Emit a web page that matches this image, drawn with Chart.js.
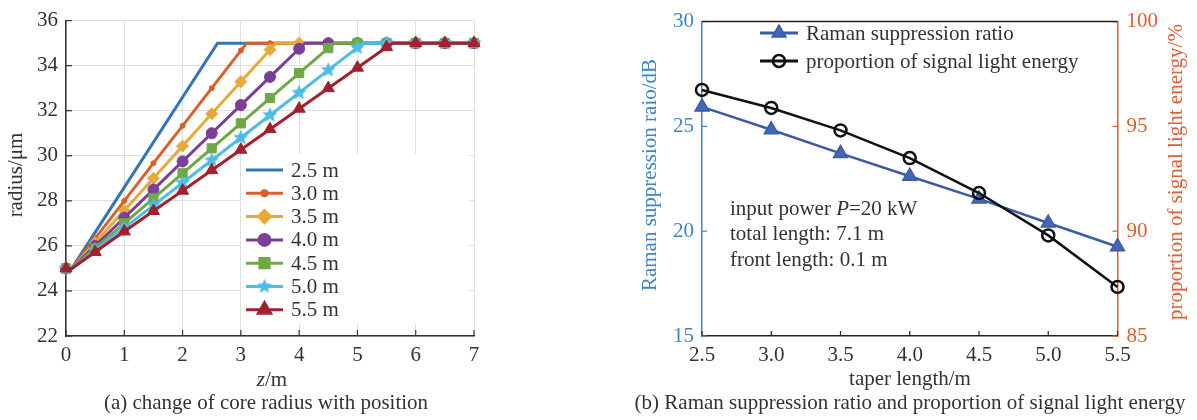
<!DOCTYPE html>
<html>
<head>
<meta charset="utf-8">
<script src="https://cdn.jsdelivr.net/npm/chart.js@4.4.0/dist/chart.umd.min.js"></script>
<style>
  html, body { margin: 0; padding: 0; background: #fff; }
  #wrap { position: relative; width: 1197px; height: 420px; overflow: hidden; }
  canvas { position: absolute; top: 0; }
</style>
</head>
<body>
<div id="wrap">
  <canvas id="radiusChart" width="600" height="420" style="left:0"></canvas>
  <canvas id="ramanChart" width="597" height="420" style="left:600px"></canvas>
</div>
<script>
// ---- (a) core radius vs position ----
const seriesLabels = ['2.5 m', '3.0 m', '3.5 m', '4.0 m', '4.5 m', '5.0 m', '5.5 m'];
const z25 = [0, 0.1, 2.6, 7];
const r25 = [25, 25, 35, 35];
const z30 = [0, 0.1, 0.5, 1, 1.5, 2, 2.5, 3, 3.1, 3.5, 4, 4.5, 5, 5.5, 6, 6.5, 7];
const r30 = [25, 25, 26.33, 28.0, 29.67, 31.33, 33.0, 34.67, 35, 35, 35, 35, 35, 35, 35, 35, 35];
const z35 = [0, 0.1, 0.5, 1, 1.5, 2, 2.5, 3, 3.5, 3.6, 4, 4.5, 5, 5.5, 6, 6.5, 7];
const r35 = [25, 25, 26.14, 27.57, 29.0, 30.43, 31.86, 33.29, 34.71, 35, 35, 35, 35, 35, 35, 35, 35];
const z40 = [0, 0.1, 0.5, 1, 1.5, 2, 2.5, 3, 3.5, 4, 4.1, 4.5, 5, 5.5, 6, 6.5, 7];
const r40 = [25, 25, 26.0, 27.25, 28.5, 29.75, 31.0, 32.25, 33.5, 34.75, 35, 35, 35, 35, 35, 35, 35];
const z45 = [0, 0.1, 0.5, 1, 1.5, 2, 2.5, 3, 3.5, 4, 4.5, 4.6, 5, 5.5, 6, 6.5, 7];
const r45 = [25, 25, 25.89, 27.0, 28.11, 29.22, 30.33, 31.44, 32.56, 33.67, 34.78, 35, 35, 35, 35, 35, 35];
const z50 = [0, 0.1, 0.5, 1, 1.5, 2, 2.5, 3, 3.5, 4, 4.5, 5, 5.1, 5.5, 6, 6.5, 7];
const r50 = [25, 25, 25.8, 26.8, 27.8, 28.8, 29.8, 30.8, 31.8, 32.8, 33.8, 34.8, 35, 35, 35, 35, 35];
const z55 = [0, 0.1, 0.5, 1, 1.5, 2, 2.5, 3, 3.5, 4, 4.5, 5, 5.5, 5.6, 6, 6.5, 7];
const r55 = [25, 25, 25.73, 26.64, 27.55, 28.45, 29.36, 30.27, 31.18, 32.09, 33.0, 33.91, 34.82, 35, 35, 35, 35];

// ---- (b) Raman suppression and signal energy ----
const taperLen = [2.5, 3.0, 3.5, 4.0, 4.5, 5.0, 5.5];
const ramanRatio = [25.93, 24.84, 23.71, 22.62, 21.54, 20.39, 19.26];
const signalPct = [96.74, 95.88, 94.81, 93.49, 91.82, 89.80, 87.34];

const SERIF = "'Liberation Serif', 'Times New Roman', serif";
Chart.defaults.font.family = SERIF;
Chart.defaults.font.size = 20;
Chart.defaults.color = '#333';
Chart.defaults.animation = false;

const BLUE_AX = '#3f85c6';
const ORANGE_AX = '#dc5f36';

function starImage(color, size) {
    const c = document.createElement('canvas');
    c.width = c.height = size;
    const g = c.getContext('2d');
    const R = size / 2, r = R * 0.45;
    g.beginPath();
    for (let i = 0; i < 10; i++) {
        const rad = i % 2 ? r : R;
        const a = -Math.PI / 2 + i * Math.PI / 5;
        g.lineTo(R + rad * Math.cos(a), R + rad * Math.sin(a));
    }
    g.closePath();
    g.fillStyle = color;
    g.fill();
    return c;
}

// markers only on the 0.5 m sample grid, not on the corner points
function markerRadii(zs, r) {
    return zs.map(z => Math.abs(z * 2 - Math.round(z * 2)) < 1e-6 ? r : 0);
}

const radiusSeries = [
    { z: z25, r: r25, color: '#3474b8', style: 'circle', size: 0 },
    { z: z30, r: r30, color: '#d9602c', style: 'circle', size: 2.5 },
    { z: z35, r: r35, color: '#e8a93a', style: 'rectRot', size: 6 },
    { z: z40, r: r40, color: '#7b3f98', style: 'circle', size: 5.5 },
    { z: z45, r: r45, color: '#6fa845', style: 'rect', size: 6.5 },
    { z: z50, r: r50, color: '#4dbde8', style: starImage('#4dbde8', 16), size: 6 },
    { z: z55, r: r55, color: '#a3202f', style: 'triangle', size: 7 }
];

function drawMarker(ctx, style, radius, x, y, color, borderWidth) {
    if (!radius) return;
    if (typeof style === 'object') {
        ctx.drawImage(style, x - style.width / 2, y - style.height / 2);
        return;
    }
    ctx.fillStyle = color;
    ctx.strokeStyle = color;
    Chart.helpers.drawPoint(ctx, { pointStyle: style, radius: radius, rotation: 0, borderWidth: borderWidth }, x, y);
}

// inward tick marks
const inTicks = {
    id: 'inTicks',
    afterDatasetsDraw(chart, args, opts) {
        const ctx = chart.ctx, a = chart.chartArea;
        (opts.axes || []).forEach(ax => {
            const sc = chart.scales[ax.id];
            ctx.save();
            ctx.strokeStyle = ax.color;
            ctx.lineWidth = 1.2;
            sc.ticks.forEach(t => {
                const p = sc.getPixelForValue(t.value);
                ctx.beginPath();
                if (ax.side === 'left') { ctx.moveTo(a.left, p); ctx.lineTo(a.left + ax.len, p); }
                if (ax.side === 'right') { ctx.moveTo(a.right, p); ctx.lineTo(a.right - ax.len, p); }
                if (ax.side === 'bottom') { ctx.moveTo(p, a.bottom); ctx.lineTo(p, a.bottom - ax.len); }
                ctx.stroke();
            });
            ctx.restore();
        });
    }
};

// free texts: titles, captions, notes
const texts = {
    id: 'texts',
    afterDraw(chart, args, opts) {
        const ctx = chart.ctx;
        (opts.items || []).forEach(it => {
            ctx.save();
            ctx.translate(it.x, it.y);
            if (it.rotate) ctx.rotate(it.rotate);
            ctx.fillStyle = it.color || '#333';
            ctx.textBaseline = 'middle';
            const parts = it.parts || [{ t: it.text }];
            let total = 0;
            parts.forEach(p => {
                ctx.font = (p.italic ? 'italic ' : '') + (it.size || 21) + 'px ' + SERIF;
                p.w = ctx.measureText(p.t).width;
                total += p.w;
            });
            let x = it.align === 'left' ? 0 : -total / 2;
            parts.forEach(p => {
                ctx.font = (p.italic ? 'italic ' : '') + (it.size || 21) + 'px ' + SERIF;
                ctx.textAlign = 'left';
                ctx.fillText(p.t, x, 0);
                x += p.w;
            });
            ctx.restore();
        });
    }
};

const radiusLegend = {
    id: 'radiusLegend',
    beforeDatasetsDraw(chart) {
        const ctx = chart.ctx;
        ctx.save();
        ctx.fillStyle = '#fff';
        ctx.fillRect(241, 154, 228, 170);
        ctx.restore();
    },
    afterDraw(chart) {
        const ctx = chart.ctx;
        radiusSeries.forEach((s, i) => {
            const y = 170 + i * 23.3;
            ctx.save();
            ctx.strokeStyle = s.color;
            ctx.lineWidth = 3;
            ctx.beginPath();
            ctx.moveTo(246, y);
            ctx.lineTo(283, y);
            ctx.stroke();
            drawMarker(ctx, s.style, s.size, 264.5, y, s.color, 1);
            ctx.fillStyle = '#333';
            ctx.font = '21px ' + SERIF;
            ctx.textBaseline = 'middle';
            ctx.textAlign = 'left';
            ctx.fillText(seriesLabels[i], 291, y + 1);
            ctx.restore();
        });
    }
};

new Chart(document.getElementById('radiusChart'), {
    type: 'line',
    data: {
        datasets: radiusSeries.map((s, i) => ({
            label: seriesLabels[i],
            data: s.z.map((z, k) => ({ x: z, y: s.r[k] })),
            borderColor: s.color,
            backgroundColor: s.color,
            borderWidth: 3,
            pointStyle: s.style,
            pointRadius: markerRadii(s.z, s.size),
            pointBorderWidth: 1,
            tension: 0,
            clip: false,
            order: 6 - i
        }))
    },
    options: {
        responsive: false,
        layout: { padding: { left: 0, top: 14, right: 126, bottom: 0 } },
        scales: {
            x: {
                type: 'linear', min: 0, max: 7,
                ticks: { stepSize: 1, padding: 7, color: '#333', font: { size: 21 } },
                grid: { color: '#dedede', drawTicks: false },
                border: { color: '#333', width: 1.5 },
                afterFit(sc) { sc.height = 84; }
            },
            y: {
                min: 22, max: 36,
                ticks: { stepSize: 2, padding: 8, color: '#333', font: { size: 21 } },
                grid: { color: '#dedede', drawTicks: false },
                border: { color: '#333', width: 1.5 },
                afterFit(sc) { sc.width = 66; }
            }
        },
        plugins: {
            legend: { display: false },
            tooltip: { enabled: false },
            inTicks: { axes: [
                { id: 'y', side: 'left', len: 6, color: '#333' },
                { id: 'x', side: 'bottom', len: 6, color: '#333' }
            ] },
            texts: { items: [
                { x: 16, y: 175, rotate: -Math.PI / 2, text: 'radius/μm' },
                { x: 272, y: 380, parts: [{ t: 'z', italic: true }, { t: '/m' }] },
                { x: 266, y: 403, text: '(a) change of core radius with position' }
            ] }
        }
    },
    plugins: [inTicks, radiusLegend, texts]
});

// ---- chart (b) ----
const ramanStyle = { color: '#3a5ba8', fill: '#4467b4' };

const ramanLegend = {
    id: 'ramanLegend',
    afterDraw(chart) {
        const ctx = chart.ctx;
        const rows = [
            { y: 33, color: ramanStyle.color, text: 'Raman suppression ratio', style: 'triangle', r: 8, fill: ramanStyle.fill, bw: 1.5 },
            { y: 61, color: '#111', text: 'proportion of signal light energy', style: 'circle', r: 6, fill: 'rgba(0,0,0,0)', bw: 2.5 }
        ];
        rows.forEach(row => {
            ctx.save();
            ctx.strokeStyle = row.color;
            ctx.lineWidth = 3;
            ctx.beginPath();
            ctx.moveTo(160, row.y);
            ctx.lineTo(198, row.y);
            ctx.stroke();
            ctx.fillStyle = row.fill;
            ctx.lineWidth = row.bw;
            Chart.helpers.drawPoint(ctx, { pointStyle: row.style, radius: row.r, rotation: 0, borderWidth: row.bw }, 179, row.y);
            ctx.fillStyle = '#333';
            ctx.font = '21px ' + SERIF;
            ctx.textBaseline = 'middle';
            ctx.textAlign = 'left';
            ctx.fillText(row.text, 206, row.y + 1);
            ctx.restore();
        });
        // top frame line
        const a = chart.chartArea;
        ctx.save();
        ctx.strokeStyle = '#222';
        ctx.lineWidth = 1.5;
        ctx.beginPath();
        ctx.moveTo(a.left, a.top);
        ctx.lineTo(a.right, a.top);
        ctx.stroke();
        ctx.restore();
    }
};

new Chart(document.getElementById('ramanChart'), {
    type: 'line',
    data: {
        datasets: [
            {
                label: 'Raman suppression ratio',
                data: taperLen.map((t, i) => ({ x: t, y: ramanRatio[i] })),
                yAxisID: 'y',
                borderColor: ramanStyle.color,
                backgroundColor: ramanStyle.fill,
                borderWidth: 2.5,
                pointStyle: 'triangle',
                pointRadius: 8,
                pointBorderWidth: 1.5,
                pointBorderColor: ramanStyle.color,
                clip: false,
                order: 1
            },
            {
                label: 'proportion of signal light energy',
                data: taperLen.map((t, i) => ({ x: t, y: signalPct[i] })),
                yAxisID: 'y1',
                borderColor: '#111',
                backgroundColor: 'rgba(0,0,0,0)',
                borderWidth: 2.5,
                pointStyle: 'circle',
                pointRadius: 6,
                pointBorderWidth: 2.5,
                clip: false,
                order: 0
            }
        ]
    },
    options: {
        responsive: false,
        layout: { padding: { left: 0, top: 14, right: 0, bottom: 0 } },
        scales: {
            x: {
                type: 'linear', min: 2.5, max: 5.5,
                ticks: { stepSize: 0.5, padding: 7, color: '#333', font: { size: 21 },
                    callback: v => v.toFixed(1) },
                grid: { display: false, drawTicks: false },
                border: { color: '#222', width: 1.5 },
                afterFit(sc) { sc.height = 84; }
            },
            y: {
                position: 'left', min: 15, max: 30,
                ticks: { stepSize: 5, padding: 8, color: BLUE_AX, font: { size: 21 } },
                grid: { display: false, drawTicks: false },
                border: { color: BLUE_AX, width: 1.5 },
                afterFit(sc) { sc.width = 102; }
            },
            y1: {
                position: 'right', min: 85, max: 100,
                ticks: { stepSize: 5, padding: 9, color: ORANGE_AX, font: { size: 21 } },
                grid: { display: false, drawTicks: false },
                border: { color: ORANGE_AX, width: 1.5 },
                afterFit(sc) { sc.width = 79.5; }
            }
        },
        plugins: {
            legend: { display: false },
            tooltip: { enabled: false },
            inTicks: { axes: [
                { id: 'y', side: 'left', len: 5, color: BLUE_AX },
                { id: 'y1', side: 'right', len: 5, color: ORANGE_AX },
                { id: 'x', side: 'bottom', len: 5, color: '#222' }
            ] },
            texts: { items: [
                { x: 50, y: 175, rotate: -Math.PI / 2, text: 'Raman suppression raio/dB', color: BLUE_AX },
                { x: 576, y: 172, rotate: -Math.PI / 2, text: 'proportion of signal light energy/%', color: ORANGE_AX },
                { x: 310, y: 379, text: 'taper length/m' },
                { x: 310, y: 403, text: '(b) Raman suppression ratio and proportion of signal light energy' },
                { x: 130, y: 209, align: 'left', parts: [{ t: 'input power ' }, { t: 'P', italic: true }, { t: '=20 kW' }] },
                { x: 130, y: 234, align: 'left', text: 'total length: 7.1 m' },
                { x: 130, y: 260, align: 'left', text: 'front length: 0.1 m' }
            ] }
        }
    },
    plugins: [inTicks, ramanLegend, texts]
});
</script>
</body>
</html>
